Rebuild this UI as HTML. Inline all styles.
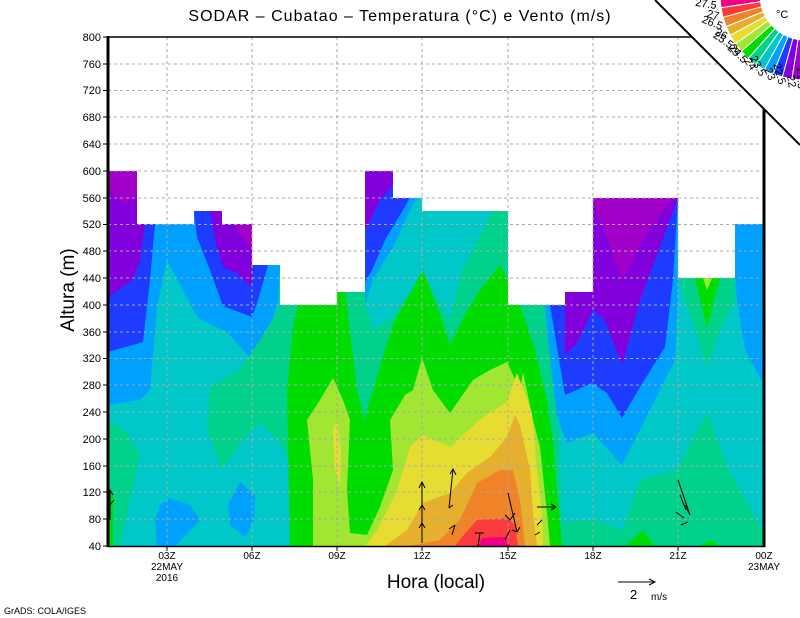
<!DOCTYPE html>
<html><head><meta charset="utf-8"><style>
html,body{margin:0;padding:0;background:#fff;}
svg{display:block;font-family:"Liberation Sans",sans-serif;}
</style></head><body>
<svg width="800" height="618" viewBox="0 0 800 618" xmlns="http://www.w3.org/2000/svg">
<rect width="800" height="618" fill="#fff"/>
<rect x="108" y="37" width="656" height="509" fill="#00c8c8"/>
<polygon fill="#00a0ff" points="108,171 137,171 137,224 194,224 194,211 222,211 222,224 252,224 252,265 280,265 278,300 270,330 252,360 227,332 198,318 167,260 157,307 150,390 140,400 108,405"/>
<polygon fill="#1e3cff" points="108,171 137,171 137,224 155,224 150,280 143,342 108,352"/>
<polygon fill="#8200dc" points="108,171 137,171 137,224 145,224 140,260 133,280 108,297"/>
<polygon fill="#a000c8" points="108,171 137,171 137,195 125,205 108,190"/>
<polygon fill="#1e3cff" points="194,211 222,211 222,224 252,224 252,265 268,265 258,300 252,317 223,306 210,270 197,237"/>
<polygon fill="#8200dc" points="210,211 222,211 222,224 252,224 252,287 235,272 223,267 215,240"/>
<polygon fill="#a000c8" points="235,224 252,224 252,250 240,236"/>
<polygon fill="#00a0ff" points="160,505 170,498 190,505 200,520 175,546 157,546 155,520"/>
<polygon fill="#00a0ff" points="240,482 255,495 254,520 245,537 230,525 228,505"/>
<polygon fill="#00a0ff" points="365,171 393,171 393,198 418,198 413,205 393,247 373,280 365,303"/>
<polygon fill="#1e3cff" points="365,171 393,171 393,198 410,198 400,215 385,240 372,270 365,282"/>
<polygon fill="#8200dc" points="365,171 393,171 393,185 380,200 368,225 365,230"/>
<polygon fill="#00a0ff" points="543,305 565,305 565,292 593,292 593,198 678,198 680,240 678,300 675,360 655,400 622,465 593,433 567,443 558,420 548,360"/>
<polygon fill="#1e3cff" points="550,305 565,305 565,292 593,292 593,198 678,198 673,280 665,347 640,387 622,418 607,393 592,383 565,395 558,353"/>
<polygon fill="#8200dc" points="565,292 593,292 593,198 678,198 668,225 655,260 640,300 622,365 605,320 593,310 577,343 565,355"/>
<polygon fill="#a000c8" points="593,198 673,198 660,215 640,245 622,280 608,240 598,215"/>
<polygon fill="#00a0ff" points="735,224 764,224 764,385 745,350 737,300 735,278"/>
<polygon fill="#00d28c" points="108,420 125,430 140,455 130,500 120,546 108,546"/>
<polygon fill="#00dc00" points="108,490 113,495 113,546 108,546"/>
<polygon fill="#00d28c" points="282,305 300,305 300,546 313,546 317,520 307,490 280,443 260,423 240,443 222,470 207,430 210,387 240,370 260,340 275,315"/>
<polygon fill="#00d28c" points="300,305 337,305 337,292 365,292 365,303 373,330 393,317 423,273 450,320 462,270 493,211 508,211 508,305 545,305 548,340 555,400 560,442 562,546 300,546"/>
<polygon fill="#00d28c" points="560,546 563,522 593,520 623,530 640,480 677,470 707,413 730,473 764,533 764,546"/>
<polygon fill="#00d28c" points="680,278 735,278 735,300 720,330 707,368 695,330 685,300"/>
<polygon fill="#00dc00" points="695,278 720,278 707,328"/>
<polygon fill="#a0e632" points="703,278 712,278 707,290"/>
<polygon fill="#00dc00" points="625,546 643,530 655,546"/>
<polygon fill="#00dc00" points="700,546 710,540 720,546"/>
<polygon fill="#00dc00" points="298,305 337,305 337,292 345,292 350,330 357,390 365,420 370,400 385,350 395,320 423,270 440,315 450,345 462,320 480,290 500,265 508,280 508,305 520,305 535,350 547,400 553,440 556,480 560,520 562,546 290,546 287,390 293,327"/>
<polygon fill="#a0e632" points="313,546 313,480 307,420 320,400 333,378 343,400 350,420 347,490 350,533 367,535 380,507 393,470 390,420 405,395 413,390 422,358 433,390 450,413 473,380 490,370 507,362 520,390 523,372 533,420 540,447 547,513 550,546"/>
<polygon fill="#e6dc32" points="333,430 337,420 341,450 340,485 335,470"/>
<polygon fill="#e6dc32" points="365,546 377,530 390,505 397,490 410,447 423,435 450,447 483,417 507,402 517,373 532,413 537,470 542,513 543,546"/>
<polygon fill="#e6af2d" points="385,546 407,530 423,503 450,493 467,473 490,457 507,437 515,415 520,425 530,470 533,513 537,546"/>
<polygon fill="#f08228" points="410,546 440,540 460,520 477,483 500,470 513,470 520,500 525,546"/>
<polygon fill="#fa3c3c" points="455,546 462,537 477,520 507,518 515,525 518,546"/>
<polygon fill="#f00082" points="478,546 482,538 505,537 510,546"/>
<polygon fill="#fff" points="108,37 764,37 764,224 735,224 735,278 678,278 678,198 593,198 593,292 565,292 565,305 508,305 508,211 422,211 422,198 393,198 393,171 365,171 365,292 337,292 337,305 280,305 280,265 252,265 252,224 222,224 222,211 194,211 194,224 137,224 137,171 108,171"/>
<g stroke="#aaa" stroke-width="1" stroke-dasharray="3,3">
<line x1="108" x2="764" y1="519" y2="519"/><line x1="108" x2="764" y1="492" y2="492"/><line x1="108" x2="764" y1="466" y2="466"/><line x1="108" x2="764" y1="439" y2="439"/><line x1="108" x2="764" y1="412" y2="412"/><line x1="108" x2="764" y1="385" y2="385"/><line x1="108" x2="764" y1="358.5" y2="358.5"/><line x1="108" x2="764" y1="332" y2="332"/><line x1="108" x2="764" y1="305" y2="305"/><line x1="108" x2="764" y1="278" y2="278"/><line x1="108" x2="764" y1="251" y2="251"/><line x1="108" x2="764" y1="224.5" y2="224.5"/><line x1="108" x2="764" y1="198" y2="198"/><line x1="108" x2="764" y1="171" y2="171"/><line x1="108" x2="764" y1="144" y2="144"/><line x1="108" x2="764" y1="117" y2="117"/><line x1="108" x2="764" y1="90.5" y2="90.5"/><line x1="108" x2="764" y1="64" y2="64"/>
<line x1="167" x2="167" y1="37" y2="546"/><line x1="252" x2="252" y1="37" y2="546"/><line x1="337" x2="337" y1="37" y2="546"/><line x1="422" x2="422" y1="37" y2="546"/><line x1="508" x2="508" y1="37" y2="546"/><line x1="593" x2="593" y1="37" y2="546"/><line x1="678" x2="678" y1="37" y2="546"/>
</g>
<g stroke="#000" stroke-width="1" fill="none">
<path d="M110,520 L110,490 M107,495 L110,490 L113,495 M110,505 L114,500"/>
<path d="M422,543 L422,482 M419,488 L422,482 L425,488 M419,510 L422,505 L425,510 M419,528 L422,523 L425,528"/>
<path d="M449,508 L453,469 M450,474 L453,469 L456,475 M449,508 L453,505"/>
<path d="M452,535 L455,525 M449,529 L455,525"/>
<path d="M508,493 L517,532 M505,515 L510,520 L515,513 M512,530 L517,532 L520,527 M505,540 L510,530"/>
<path d="M537,507 L556,507 M551,504 L556,507 L551,510 M537,525 L542,520 M535,535 L540,532"/>
<path d="M678,480 L690,515 M680,495 L686,510 M685,505 L690,515 M676,512 L684,518 M681,525 L688,522"/>
<path d="M480,533 L478,546 M475,533 L484,533"/>
</g>
<g stroke="#000" fill="none">
<line x1="108" y1="36" x2="108" y2="547" stroke-width="3"/>
<line x1="764" y1="36" x2="764" y2="547" stroke-width="3"/>
<line x1="107" y1="546.5" x2="765" y2="546.5" stroke-width="1.5"/>
<line x1="107" y1="37" x2="765" y2="37" stroke-width="1.5"/>
</g>
<g stroke="#000" stroke-width="1">
<line x1="103" x2="108" y1="546" y2="546"/><line x1="103" x2="108" y1="519" y2="519"/><line x1="103" x2="108" y1="492" y2="492"/><line x1="103" x2="108" y1="466" y2="466"/><line x1="103" x2="108" y1="439" y2="439"/><line x1="103" x2="108" y1="412" y2="412"/><line x1="103" x2="108" y1="385" y2="385"/><line x1="103" x2="108" y1="358.5" y2="358.5"/><line x1="103" x2="108" y1="332" y2="332"/><line x1="103" x2="108" y1="305" y2="305"/><line x1="103" x2="108" y1="278" y2="278"/><line x1="103" x2="108" y1="251" y2="251"/><line x1="103" x2="108" y1="224.5" y2="224.5"/><line x1="103" x2="108" y1="198" y2="198"/><line x1="103" x2="108" y1="171" y2="171"/><line x1="103" x2="108" y1="144" y2="144"/><line x1="103" x2="108" y1="117" y2="117"/><line x1="103" x2="108" y1="90.5" y2="90.5"/><line x1="103" x2="108" y1="64" y2="64"/><line x1="103" x2="108" y1="37" y2="37"/>
<line x1="167" x2="167" y1="546" y2="551"/><line x1="252" x2="252" y1="546" y2="551"/><line x1="337" x2="337" y1="546" y2="551"/><line x1="422" x2="422" y1="546" y2="551"/><line x1="508" x2="508" y1="546" y2="551"/><line x1="593" x2="593" y1="546" y2="551"/><line x1="678" x2="678" y1="546" y2="551"/>
</g>
<g font-size="11" text-anchor="end" fill="#000">
<text x="101" y="550">40</text><text x="101" y="523">80</text><text x="101" y="496">120</text><text x="101" y="470">160</text><text x="101" y="443">200</text><text x="101" y="416">240</text><text x="101" y="389">280</text><text x="101" y="362">320</text><text x="101" y="336">360</text><text x="101" y="309">400</text><text x="101" y="282">440</text><text x="101" y="255">480</text><text x="101" y="228">520</text><text x="101" y="202">560</text><text x="101" y="175">600</text><text x="101" y="148">640</text><text x="101" y="121">680</text><text x="101" y="94">720</text><text x="101" y="68">760</text><text x="101" y="41">800</text>
</g>
<g font-size="10" text-anchor="middle" fill="#000">
<text x="167" y="559">03Z</text><text x="167" y="570">22MAY</text><text x="167" y="581">2016</text>
<text x="252" y="559">06Z</text><text x="337" y="559">09Z</text><text x="422" y="559">12Z</text><text x="508" y="559">15Z</text><text x="593" y="559">18Z</text><text x="678" y="559">21Z</text>
<text x="764" y="559">00Z</text><text x="764" y="570">23MAY</text>
</g>
<text x="400" y="21" font-size="16" text-anchor="middle" letter-spacing="1">SODAR – Cubatao – Temperatura (°C) e Vento (m/s)</text>
<text x="436" y="588" font-size="19" text-anchor="middle">Hora (local)</text>
<text transform="translate(74,290) rotate(-90)" font-size="19" text-anchor="middle">Altura (m)</text>
<text x="4" y="614" font-size="9">GrADS: COLA/IGES</text>
<g stroke="#000" fill="none"><path d="M618,582 L655,582 M649,579 L655,582 L649,585"/></g>
<text x="630" y="599" font-size="13">2</text><text x="651" y="600" font-size="10">m/s</text>
<polygon fill="#fff" points="655,0 800,0 800,145"/>
<line x1="655" y1="0" x2="800" y2="145" stroke="#000" stroke-width="2"/>
<g stroke="#fff" stroke-width="1">
<path fill="#f00082" d="M720.1,-2.0 L760.0,-3.4 L760.5,1.7 L720.9,7.7 Z"/>
<path fill="#fa3c3c" d="M720.9,7.7 L760.5,1.7 L761.6,6.8 L723.0,17.3 Z"/>
<path fill="#f08228" d="M723.0,17.3 L761.6,6.8 L763.2,11.7 L726.1,26.6 Z"/>
<path fill="#e6af2d" d="M726.1,26.6 L763.2,11.7 L765.4,16.4 L730.2,35.4 Z"/>
<path fill="#e6dc32" d="M730.2,35.4 L765.4,16.4 L768.1,20.8 L735.4,43.8 Z"/>
<path fill="#a0e632" d="M735.4,43.8 L768.1,20.8 L771.3,24.9 L741.4,51.4 Z"/>
<path fill="#00dc00" d="M741.4,51.4 L771.3,24.9 L775.0,28.5 L748.3,58.4 Z"/>
<path fill="#00d28c" d="M748.3,58.4 L775.0,28.5 L779.1,31.8 L756.0,64.5 Z"/>
<path fill="#00c8c8" d="M756.0,64.5 L779.1,31.8 L783.5,34.5 L764.3,69.6 Z"/>
<path fill="#00a0ff" d="M764.3,69.6 L783.5,34.5 L788.1,36.7 L773.2,73.8 Z"/>
<path fill="#1e3cff" d="M773.2,73.8 L788.1,36.7 L793.0,38.4 L782.4,77.0 Z"/>
<path fill="#8200dc" d="M782.4,77.0 L793.0,38.4 L798.1,39.5 L792.0,79.0 Z"/>
<path fill="#a000c8" d="M792.0,79.0 L798.1,39.5 L803.3,40.0 L801.7,79.9 Z"/>
</g>
<g font-size="11" text-anchor="end" fill="#000">
<text transform="translate(716,9) rotate(8.6)">27.5</text>
<text transform="translate(718,20) rotate(15.2)">27</text>
<text transform="translate(721,30) rotate(21.8)">26.5</text>
<text transform="translate(725,40) rotate(28.4)">26</text>
<text transform="translate(730,49) rotate(35)">25.5</text>
<text transform="translate(736,57) rotate(41.6)">25</text>
<text transform="translate(743,64) rotate(48.2)">24.5</text>
<text transform="translate(751,71) rotate(54.8)">24</text>
<text transform="translate(760,77) rotate(61.4)">23.5</text>
<text transform="translate(769,81) rotate(68)">23</text>
<text transform="translate(779,85) rotate(74.6)">22.5</text>
<text transform="translate(789,88) rotate(81.2)">22</text>
<text transform="translate(798,89) rotate(87)">21.5</text>
</g>
<text x="776" y="18" font-size="11">°C</text>
</svg>
</body></html>
